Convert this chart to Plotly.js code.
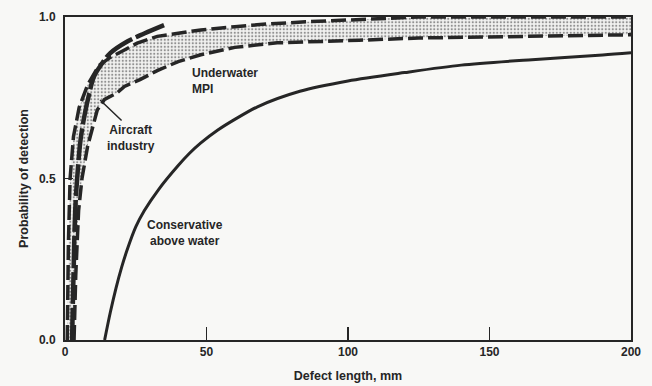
<!DOCTYPE html>
<html>
<head>
<meta charset="utf-8">
<script src="https://cdn.plot.ly/plotly-3.0.1.min.js"></script>
<style>html,body{margin:0;padding:0;background:#f8f8f6;}#chart{width:652px;height:386px;}</style>
</head>
<body>
<div id="chart"></div>
<script>
// Conservative above water (solid)
const consX = [14, 16, 18, 20, 22, 25, 28, 33, 40, 44, 48, 54, 60, 68, 83, 100, 120, 140, 165, 190, 200];
const consY = [0, 0.085, 0.16, 0.225, 0.28, 0.35, 0.4, 0.465, 0.54, 0.578, 0.61, 0.65, 0.683, 0.722, 0.77, 0.802, 0.828, 0.851, 0.868, 0.882, 0.889];

// Aircraft industry (thick)
const airX = [2.5, 3, 3.6, 4.3, 5.5, 7, 8.5, 10.2, 13, 16, 22, 28, 35];
const airY = [0, 0.2, 0.4, 0.5, 0.62, 0.7, 0.76, 0.815, 0.855, 0.888, 0.924, 0.949, 0.975];

// Underwater MPI upper bound (dashed)
const mpiUpX = [0.8, 1.2, 1.8, 3, 5, 8, 12, 16, 20, 25.5, 32.6, 40, 48, 60, 71, 85, 95, 107, 116, 125, 200];
const mpiUpY = [0, 0.3, 0.5, 0.63, 0.72, 0.79, 0.85, 0.875, 0.893, 0.919, 0.94, 0.95, 0.96, 0.97, 0.978, 0.985, 0.989, 0.994, 0.998, 1.0, 1.0];

// Underwater MPI lower bound (dashed)
const mpiLoX = [3.2, 3.8, 4.8, 6, 8, 10, 11.4, 14, 18.4, 21, 26.5, 32.6, 40, 48, 60, 75, 89, 104, 125, 160, 200];
const mpiLoY = [0, 0.2, 0.4, 0.5, 0.6, 0.67, 0.712, 0.745, 0.765, 0.785, 0.806, 0.834, 0.862, 0.883, 0.906, 0.92, 0.925, 0.928, 0.935, 0.94, 0.945];

const xTicks = [0, 50, 100, 150, 200];
const yTicks = [0, 0.5, 1.0];
const yTickText = ['0.0', '0.5', '1.0'];

const ink = '#262626';
const fnt = 'Liberation Sans, Arial, sans-serif';

const band = {
  x: mpiUpX.concat(mpiLoX.slice().reverse()),
  y: mpiUpY.concat(mpiLoY.slice().reverse()),
  type: 'scatter', mode: 'lines', fill: 'toself',
  fillcolor: 'rgba(0,0,0,0)',
  fillpattern: {shape: '.', fgcolor: '#909090', bgcolor: 'rgba(225,225,225,0.25)', size: 3.5, solidity: 0.3},
  line: {width: 0}, hoverinfo: 'skip', showlegend: false
};

const traces = [
  band,
  {x: mpiLoX, y: mpiLoY, type: 'scatter', mode: 'lines', line: {color: ink, width: 3.5, dash: '15px,5px'}, showlegend: false},
  {x: mpiUpX, y: mpiUpY, type: 'scatter', mode: 'lines', line: {color: ink, width: 3.5, dash: '15px,5px'}, showlegend: false},
  {x: airX, y: airY, type: 'scatter', mode: 'lines', line: {color: ink, width: 4.5, dash: '32px,4px', shape: 'spline'}, showlegend: false},
  {x: consX, y: consY, type: 'scatter', mode: 'lines', line: {color: ink, width: 3, shape: 'spline', smoothing: 0.8}, showlegend: false}
];

const layout = {
  width: 652, height: 386,
  margin: {l: 65, r: 21, t: 17, b: 46},
  paper_bgcolor: '#f8f8f6', plot_bgcolor: '#f8f8f6',
  font: {family: fnt, color: ink},
  xaxis: {
    range: [0, 200], tickvals: xTicks, ticks: 'inside', ticklen: 13, tickwidth: 1.5, tickcolor: ink,
    showline: true, mirror: true, linewidth: 2, linecolor: ink, showgrid: false, zeroline: false,
    tickfont: {size: 12, weight: 'bold', family: fnt},
    title: {text: 'Defect length, mm', font: {size: 12.5, weight: 'bold', family: fnt}, standoff: 13}
  },
  yaxis: {
    range: [0, 1], tickvals: yTicks, ticktext: yTickText, ticks: 'inside', ticklen: 8, tickwidth: 1.5, tickcolor: ink,
    showline: true, mirror: true, linewidth: 2, linecolor: ink, showgrid: false, zeroline: false,
    ticklabelstandoff: 5,
    tickfont: {size: 12, weight: 'bold', family: fnt},
    title: {text: 'Probability of detection', font: {size: 12.5, weight: 'bold', family: fnt}, standoff: 8}
  },
  annotations: [
    {x: 44.2, y: 0.803, xref: 'x', yref: 'y', xanchor: 'left', yanchor: 'middle', align: 'left', showarrow: false,
     text: 'Underwater<br>MPI', font: {size: 12, weight: 'bold', family: fnt, color: ink}},
    {x: 23.3, y: 0.624, xref: 'x', yref: 'y', xanchor: 'center', yanchor: 'middle', align: 'center', showarrow: false,
     text: 'Aircraft<br>industry', font: {size: 12, weight: 'bold', family: fnt, color: ink}},
    {x: 12.4, y: 0.743, xref: 'x', yref: 'y', ax: 23, ay: 22, showarrow: true, arrowhead: 0, arrowwidth: 1.5, arrowcolor: ink, text: ''},
    {x: 42.4, y: 0.33, xref: 'x', yref: 'y', xanchor: 'center', yanchor: 'middle', align: 'center', showarrow: false,
     text: 'Conservative<br>above water', font: {size: 12, weight: 'bold', family: fnt, color: ink}}
  ]
};

Plotly.newPlot('chart', traces, layout, {staticPlot: true, displayModeBar: false});
</script>
</body>
</html>
